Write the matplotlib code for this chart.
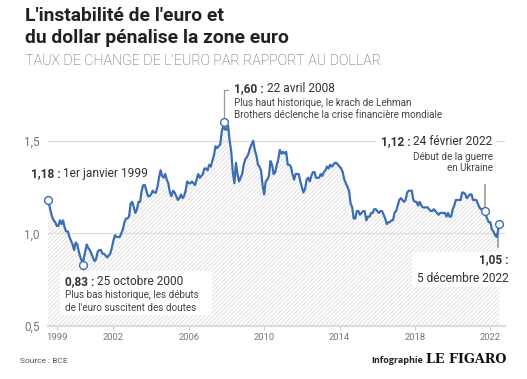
import matplotlib
matplotlib.use('Agg')
import matplotlib.pyplot as plt
import numpy as np
import pandas as pd

# taux de change EUR/USD, valeurs mensuelles (milieu de mois)
rates_by_year = {
    1999: [1.16, 1.12, 1.09, 1.07, 1.06, 1.04, 1.04, 1.07, 1.05, 1.07, 1.03, 1.01],
    2000: [1.01, 0.98, 0.96, 0.94, 0.91, 0.95, 0.94, 0.90, 0.87, 0.85, 0.86, 0.90],
    2001: [0.94, 0.92, 0.91, 0.89, 0.87, 0.85, 0.86, 0.90, 0.91, 0.91, 0.89, 0.89],
    2002: [0.88, 0.87, 0.88, 0.89, 0.92, 0.96, 0.99, 0.98, 0.98, 0.98, 1.00, 1.02],
    2003: [1.06, 1.08, 1.08, 1.09, 1.16, 1.17, 1.14, 1.11, 1.13, 1.17, 1.17, 1.23],
    2004: [1.26, 1.26, 1.23, 1.20, 1.20, 1.21, 1.23, 1.22, 1.22, 1.25, 1.30, 1.34],
    2005: [1.31, 1.30, 1.32, 1.29, 1.27, 1.22, 1.20, 1.23, 1.22, 1.20, 1.18, 1.19],
    2006: [1.21, 1.19, 1.20, 1.23, 1.28, 1.27, 1.27, 1.28, 1.27, 1.26, 1.29, 1.32],
    2007: [1.30, 1.31, 1.32, 1.35, 1.35, 1.34, 1.37, 1.36, 1.39, 1.42, 1.47, 1.46],
    2008: [1.47, 1.48, 1.55, 1.58, 1.56, 1.56, 1.58, 1.50, 1.44, 1.33, 1.27, 1.38],
    2009: [1.32, 1.28, 1.30, 1.32, 1.37, 1.40, 1.41, 1.43, 1.46, 1.48, 1.50, 1.45],
    2010: [1.42, 1.37, 1.36, 1.34, 1.26, 1.21, 1.28, 1.29, 1.31, 1.39, 1.37, 1.32],
    2011: [1.33, 1.37, 1.40, 1.45, 1.43, 1.44, 1.43, 1.44, 1.37, 1.37, 1.36, 1.32],
    2012: [1.29, 1.32, 1.32, 1.32, 1.28, 1.25, 1.22, 1.24, 1.29, 1.30, 1.28, 1.31],
    2013: [1.33, 1.33, 1.30, 1.30, 1.30, 1.32, 1.31, 1.33, 1.34, 1.36, 1.35, 1.37],
    2014: [1.36, 1.37, 1.38, 1.38, 1.37, 1.36, 1.35, 1.33, 1.29, 1.27, 1.25, 1.23],
    2015: [1.16, 1.14, 1.08, 1.08, 1.12, 1.12, 1.10, 1.11, 1.12, 1.12, 1.07, 1.09],
    2016: [1.09, 1.11, 1.11, 1.13, 1.13, 1.12, 1.11, 1.12, 1.12, 1.10, 1.08, 1.05],
    2017: [1.06, 1.06, 1.07, 1.07, 1.11, 1.12, 1.15, 1.18, 1.19, 1.18, 1.17, 1.18],
    2018: [1.22, 1.23, 1.23, 1.23, 1.18, 1.17, 1.17, 1.15, 1.17, 1.15, 1.14, 1.14],
    2019: [1.14, 1.14, 1.13, 1.12, 1.12, 1.13, 1.12, 1.11, 1.10, 1.11, 1.11, 1.11],
    2020: [1.11, 1.09, 1.11, 1.09, 1.09, 1.13, 1.15, 1.18, 1.18, 1.18, 1.18, 1.22],
    2021: [1.22, 1.21, 1.19, 1.20, 1.21, 1.21, 1.18, 1.18, 1.18, 1.16, 1.14, 1.13],
    2022: [1.13, 1.13, 1.10, 1.08, 1.06, 1.06, 1.02, 1.01, 0.99, 0.98, 1.02],
}

# points remarquables
key_dates = ['1999-01-01', '2000-10-25', '2008-04-22', '2022-02-24', '2022-12-05']
key_values = [1.18, 0.83, 1.60, 1.12, 1.05]

tick_years = [1999, 2002, 2006, 2010, 2014, 2018, 2022]
y_ticks = [0.5, 1.0, 1.5]
y_labels = ['0,5', '1,0', '1,5']

title_lines = ["L'instabilité de l'euro et", "du dollar pénalise la zone euro"]
subtitle = "TAUX DE CHANGE DE L'EURO PAR RAPPORT AU DOLLAR"


def decimal_year(d):
    d = pd.Timestamp(d)
    return d.year + (d.dayofyear - 1) / 365.25


rows = []
for year, vals in rates_by_year.items():
    for m, v in enumerate(vals):
        rows.append((decimal_year('%d-%02d-15' % (year, m + 1)), v))
for d, v in zip(key_dates, key_values):
    rows.append((decimal_year(d), v))
data = pd.DataFrame(rows, columns=['t', 'rate']).sort_values('t')
key_t = [decimal_year(d) for d in key_dates]

W, H = 527, 379
plt.rcParams['font.family'] = ['Roboto', 'DejaVu Sans']
plt.rcParams['hatch.linewidth'] = 0.6
fig = plt.figure(figsize=(W / 100, H / 100), dpi=100)

# zone de tracé (pixels mesurés sur le modèle)
left, right, top, bottom = 48.3, 505, 120, 326
ax = fig.add_axes([left / W, 1 - bottom / H, (right - left) / W, (bottom - top) / H])
scale = 18.85
ax.set_xlim(1999.0, 1999.0 + (right - left) / scale)
ax.set_ylim(0.5, 1.0 + (233.3 - top) / 185.3)

blue = '#3b6db3'
ax.fill_between(data['t'], 0.5, data['rate'], facecolor='none', edgecolor='#dadada',
                hatch='////////', linewidth=0, zorder=1)
ax.plot(data['t'], data['rate'], color=blue, linewidth=1.6, zorder=3)

for s in ['top', 'right', 'left']:
    ax.spines[s].set_visible(False)
ax.spines['bottom'].set_color('#dcdcdc')
ax.spines['bottom'].set_linewidth(1.6)
ax.set_yticks(y_ticks)
ax.set_yticklabels(y_labels)
ax.set_xticks([y + 0.45 for y in tick_years])
ax.set_xticklabels([str(y) for y in tick_years])
ax.tick_params(axis='y', length=0, pad=6, labelsize=8.5, labelcolor='#777777')
ax.tick_params(axis='x', length=3, width=0.8, color='#cccccc', pad=2,
               labelsize=6.8, labelcolor='#777777')
for yv in y_ticks[1:]:
    ax.axhline(yv, color='#dddddd', linewidth=0.9, zorder=0.5)

# leaders
def px2data(xp, yp):
    return ax.transData.inverted().transform((xp, H - yp))

lead = '#999999'
y_top = px2data(0, 90)[1]
ax.plot([key_t[2], key_t[2], key_t[2] + 0.25], [key_values[2], y_top, y_top],
        color=lead, linewidth=0.9, clip_on=False, zorder=2)
ax.plot([key_t[1], key_t[1]], [key_values[1], px2data(0, 270)[1]],
        color=lead, linewidth=0.9, zorder=2)
ax.plot([key_t[3], key_t[3]], [key_values[3], px2data(0, 185)[1]],
        color=lead, linewidth=1.2, zorder=2)
ax.plot([key_t[4] - 0.05, key_t[4] - 0.05], [key_values[4], px2data(0, 247)[1]],
        color=lead, linewidth=1.2, zorder=2)

ax.plot(key_t, key_values, 'o', markersize=5.6, markerfacecolor='white',
        markeredgecolor=blue, markeredgewidth=1.0, zorder=4, clip_on=False)

renderer = fig.canvas.get_renderer()


def fpos(xp, yp):
    return xp / W, 1 - yp / H


def label(xp, yp, bold, rest, size, ha='left'):
    kw = dict(fontsize=size, color='#333333', va='baseline', zorder=6)
    if ha == 'left':
        t1 = fig.text(*fpos(xp, yp), bold, fontweight='bold', ha='left', **kw)
        x1 = t1.get_window_extent(renderer).x1
        fig.text(x1 / W, 1 - yp / H, rest, ha='left', **kw)
    else:
        t2 = fig.text(*fpos(xp, yp), rest, ha='right', **kw)
        x0 = t2.get_window_extent(renderer).x0
        fig.text(x0 / W, 1 - yp / H, bold, fontweight='bold', ha='right', **kw)


def note(xp, yp, txt, ha='left'):
    fig.text(*fpos(xp, yp), txt, fontsize=7.1, color='#444444', ha=ha, va='baseline',
             zorder=6)


def white_box(x0, y0, x1, y1):
    fig.patches.append(plt.Rectangle((x0 / W, 1 - y1 / H), (x1 - x0) / W, (y1 - y0) / H,
                                     transform=fig.transFigure, facecolor='white',
                                     edgecolor='none', zorder=5))


white_box(60, 271, 212, 315)
white_box(412, 252, 510, 287)
white_box(376, 134, 496, 148)

label(30.7, 176.7, '1,18 :', ' 1er janvier 1999', 8.6)
label(234, 92.5, '1,60 :', ' 22 avril 2008', 8.6)
note(234, 106, 'Plus haut historique, le krach de Lehman')
note(234, 118.3, 'Brothers déclenche la crise financière mondiale')
label(65, 285, '0,83 :', ' 25 octobre 2000', 8.6)
note(65, 298.3, 'Plus bas historique, les débuts')
note(65, 311, "de l'euro suscitent des doutes")
label(492.7, 145, '1,12 :', ' 24 février 2022', 8.6, ha='right')
note(492.7, 160, 'Début de la guerre', ha='right')
note(492.7, 170.7, 'en Ukraine', ha='right')
fig.text(*fpos(508.3, 263), '1,05 :', fontsize=8.6, fontweight='bold', color='#333333',
         ha='right', va='baseline', zorder=6)
fig.text(*fpos(508.3, 281.7), '5 décembre 2022', fontsize=8.6, color='#333333',
         ha='right', va='baseline', zorder=6)

fig.text(*fpos(25, 21), title_lines[0], fontsize=13.9, fontweight='bold',
         color='#222222', ha='left', va='baseline')
fig.text(*fpos(25, 42.7), title_lines[1], fontsize=13.9, fontweight='bold',
         color='#222222', ha='left', va='baseline')
fig.text(*fpos(25, 64.5), subtitle, fontsize=10.3, fontweight='light', color='#555555',
         ha='left', va='baseline')

fig.text(*fpos(20, 363), 'Source : BCE', fontsize=6, color='#555555', ha='left',
         va='baseline')
t_fig = fig.text(*fpos(506, 363.3), 'LE FIGARO', fontsize=9.2, fontweight='bold',
                 family='DejaVu Serif', color='#111111', ha='right', va='baseline')
x0 = t_fig.get_window_extent(renderer).x0
fig.text((x0 - 3) / W, 1 - 363.3 / H, 'Infographie', fontsize=6.5, fontweight='bold',
         family='Open Sans', color='#222222', ha='right', va='baseline')

fig.savefig('out.png', dpi=100)
